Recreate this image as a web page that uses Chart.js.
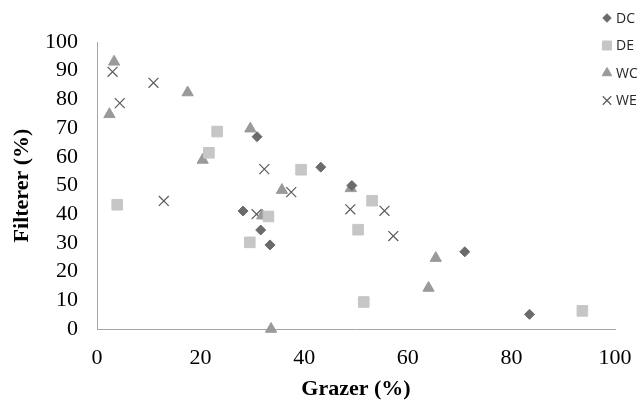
<!DOCTYPE html>
<html lang="en">
<head>
  <meta charset="UTF-8">
  <title>Filterer vs Grazer</title>
  <script src="https://cdn.jsdelivr.net/npm/chart.js"></script>
  <style>
    body { margin: 0; background: #fff; }
    canvas { display: block; }
  </style>
</head>
<body>
  <canvas id="scatterChart" width="644" height="404"></canvas>

  <script>
    // Values (x = Grazer %, y = Filterer %)
    const dcX = [28.2, 30.9, 31.6, 33.4, 43.2, 49.2, 71.0, 83.5];
    const dcY = [41.1, 67.0, 34.5, 29.3, 56.4, 50.0, 26.9, 5.1];

    const deX = [3.9, 21.6, 23.2, 29.5, 33.1, 39.4, 50.4, 51.5, 53.1, 93.7];
    const deY = [43.3, 61.4, 68.8, 30.2, 39.2, 55.5, 34.6, 9.4, 44.7, 6.3];

    const wcX = [2.4, 3.3, 17.5, 20.4, 29.6, 31.9, 33.6, 35.7, 49.0, 64.0, 65.4];
    const wcY = [74.8, 93.1, 82.4, 58.9, 69.8, 39.5, 0, 48.4, 49.0, 14.3, 24.7];

    const weX = [3.0, 4.4, 10.9, 12.9, 30.8, 32.3, 37.5, 48.9, 55.5, 57.2];
    const weY = [89.6, 78.7, 85.8, 44.6, 40.0, 55.7, 47.7, 41.7, 41.2, 32.4];

    const xTicks = [0, 20, 40, 60, 80, 100];
    const yTicks = [0, 10, 20, 30, 40, 50, 60, 70, 80, 90, 100];

    function toPoints(xs, ys) {
      return xs.map((x, i) => ({ x: x, y: ys[i] }));
    }

    function createDataset(label, xs, ys, style, radius, fill, stroke, width) {
      return {
        label: label,
        data: toPoints(xs, ys),
        pointStyle: style,
        pointRadius: radius,
        pointHoverRadius: radius,
        backgroundColor: fill,
        borderColor: stroke,
        borderWidth: width,
        clip: false
      };
    }

    // legend drawn over the top right corner of the plot, like the original
    const sideLegend = {
      id: 'sideLegend',
      afterDraw(chart) {
        const ctx = chart.ctx;
        chart.data.datasets.forEach((ds, i) => {
          const y = 18 + i * 27.5;
          ctx.save();
          ctx.fillStyle = ds.backgroundColor;
          ctx.strokeStyle = ds.borderColor;
          ctx.lineWidth = ds.borderWidth;
          Chart.helpers.drawPoint(ctx, {
            pointStyle: ds.pointStyle,
            radius: ds.pointRadius * 0.85,
            borderWidth: ds.borderWidth
          }, 607, y);
          ctx.fillStyle = '#262626';
          ctx.font = '14px "Open Sans", sans-serif';
          ctx.textBaseline = 'middle';
          ctx.textAlign = 'left';
          ctx.fillText(ds.label, 616, y + 1);
          ctx.restore();
        });
      }
    };

    const serif = '"Liberation Serif", "Times New Roman", serif';

    new Chart(document.getElementById('scatterChart').getContext('2d'), {
      type: 'scatter',
      data: {
        datasets: [
          createDataset('DC', dcX, dcY, 'rectRot', 5, '#6b6b6b', '#6b6b6b', 1),
          createDataset('DE', deX, deY, 'rect', 7.5, '#c6c6c6', '#c6c6c6', 1),
          createDataset('WC', wcX, wcY, 'triangle', 6.5, '#9a9a9a', '#9a9a9a', 1),
          createDataset('WE', weX, weY, 'crossRot', 7, '#5a5a5a', '#5a5a5a', 1.2)
        ]
      },
      options: {
        responsive: false,
        animation: false,
        layout: { padding: { left: 0, right: 29, top: 42, bottom: 0 } },
        plugins: {
          legend: { display: false },
          tooltip: { enabled: false }
        },
        scales: {
          x: {
            type: 'linear',
            min: 0,
            max: 100,
            afterBuildTicks: s => { s.ticks = xTicks.map(v => ({ value: v })); },
            afterFit: s => { s.height = 75; s.paddingLeft = 0; s.paddingRight = 0; },
            grid: { display: false, drawTicks: false },
            border: { color: '#a6a6a6', width: 1 },
            ticks: { color: '#000', padding: 16, autoSkip: false, maxRotation: 0, font: { family: serif, size: 22 } },
            title: {
              display: true,
              text: 'Grazer (%)',
              color: '#000',
              font: { family: serif, size: 22, weight: 'bold' },
              padding: { top: 0, bottom: 1 }
            }
          },
          y: {
            type: 'linear',
            min: 0,
            max: 100,
            afterBuildTicks: s => { s.ticks = yTicks.map(v => ({ value: v })); },
            afterFit: s => { s.width = 97; },
            grid: { display: false, drawTicks: false },
            border: { color: '#a6a6a6', width: 1 },
            ticks: { color: '#000', padding: 19, autoSkip: false, font: { family: serif, size: 22 } },
            title: {
              display: true,
              text: 'Filterer (%)',
              color: '#000',
              font: { family: serif, size: 22, weight: 'bold' },
              padding: { top: 9, bottom: 0 }
            }
          }
        }
      },
      plugins: [sideLegend]
    });
  </script>
</body>
</html>
